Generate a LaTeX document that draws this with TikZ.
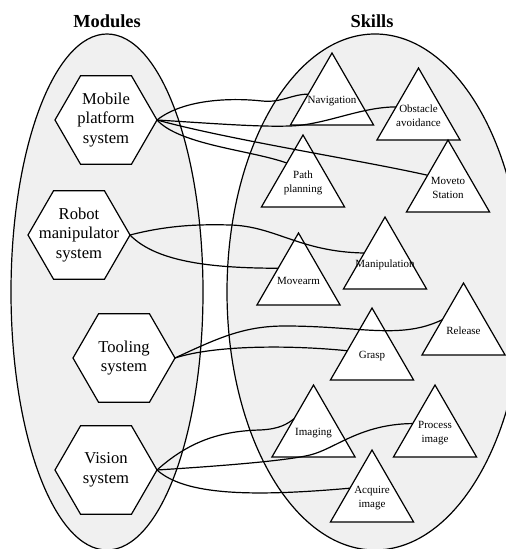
\documentclass[tikz,border=0pt]{standalone}
\usepackage{fontspec}
\setmainfont{Liberation Serif}
\usetikzlibrary{shapes.geometric}
\definecolor{regionfill}{RGB}{240,240,240}
\tikzset{
  region/.style={draw, fill=regionfill},
  title/.style={font=\fontsize{9.2}{11}\selectfont\bfseries},
  module/.style={
    regular polygon, regular polygon sides=6,
    draw, fill=white, minimum size=51pt, inner sep=0pt, outer sep=0pt,
  },
  module text/.style={align=center, font=\fontsize{8.3}{9.8}\selectfont},
  skill/.style={
    regular polygon, regular polygon sides=3,
    draw, fill=white, minimum size=48pt, inner sep=0pt, outer sep=0pt,
  },
  skill text/.style={align=center, font=\fontsize{5.5}{7}\selectfont},
  link/.style={draw},
}

\begin{document}
\begin{tikzpicture}[x=0.5pt, y=-0.5pt, line width=0.6pt]

  \useasboundingbox (0,0) rectangle (505,549);

  % Regions
  \draw[region] (107,292) ellipse [x radius=48pt, y radius=129pt];
  \draw[region] (375,292) ellipse [x radius=74pt, y radius=129pt];
  \node[title] (modules) at (107,21) {Modules};
  \node[title] (skills) at (372,21) {Skills};

  % Define nodes
  \node[module, label={[module text]center:Mobile\\platform\\system}] (mobile) at (106,120) {};
  \node[module, label={[module text]center:Robot\\manipulator\\system}] (manipulator) at (79,235) {};
  \node[module, label={[module text]center:Tooling\\system}] (tooling) at (124,358) {};
  \node[module, label={[module text]center:Vision\\system}] (vision) at (106,470) {};

  \node[skill, label={[skill text]center:Navigation}] (navigation) at (332,101) {};
  \node[skill, label={[skill text]center:Obstacle\\avoidance}] (obstacle) at (418.5,116) {};
  \node[skill, label={[skill text]center:Path\\planning}] (path_planning) at (303,183) {};
  \node[skill, label={[skill text]center:Moveto\\Station}] (moveto) at (448,188) {};
  \node[skill, label={[skill text]center:Manipulation}] (manipulation) at (385,265) {};
  \node[skill, label={[skill text]center:Movearm}] (movearm) at (298.5,281) {};
  \node[skill, label={[skill text]center:Release}] (release) at (463.5,331) {};
  \node[skill, label={[skill text]center:Grasp}] (grasp) at (372,356) {};
  \node[skill, label={[skill text]center:Imaging}] (imaging) at (313.5,433) {};
  \node[skill, label={[skill text]center:Process\\image}] (process_image) at (435,433) {};
  \node[skill, label={[skill text]center:Acquire\\image}] (acquire_image) at (372,498) {};

  % Connect nodes
  \draw[link] (mobile.east) .. controls (185,98) and (235,98) .. (262,101)
    .. controls (282,103) and (292,94) .. (navigation.164);
  \draw[link] (mobile.east) .. controls (220,124) and (260,127) .. (290,126)
    .. controls (325,125) and (360,107) .. (obstacle.158);
  \draw[link] (mobile.east) .. controls (180,145) and (250,150) .. (path_planning.129);
  \draw[link] (mobile.east) .. controls (230,140) and (360,160) .. (moveto.148);

  \draw[link] (manipulator.east) .. controls (165,226) and (195,224) .. (230,225)
    .. controls (275,226) and (300,252) .. (manipulation.150);
  \draw[link] (manipulator.east) .. controls (158,264) and (220,268) .. (movearm.148);

  \draw[link] (tooling.east) .. controls (220,337) and (245,326) .. (285,326)
    .. controls (360,326) and (400,340) .. (release.152);
  \draw[link] (tooling.east) .. controls (215,345) and (290,345) .. (grasp.168);

  \draw[link] (vision.east) .. controls (185,445) and (215,431) .. (260,430)
    .. controls (280,429) and (287,424) .. (imaging.144);
  \draw[link] (vision.east) .. controls (220,466) and (285,461) .. (310,455)
    .. controls (335,449) and (360,424) .. (process_image.157);
  \draw[link] (vision.east) .. controls (185,495) and (250,497) .. (acquire_image.156);

\end{tikzpicture}
\end{document}
